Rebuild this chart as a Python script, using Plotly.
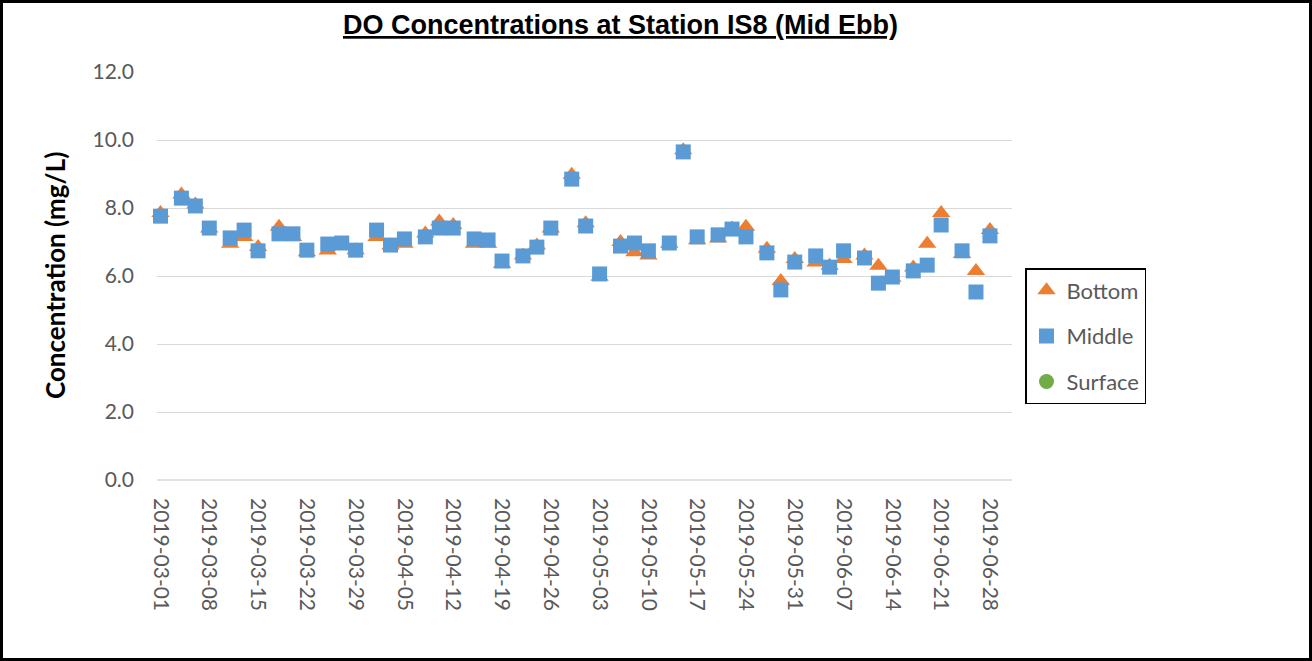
import plotly.graph_objects as go

dates = [
    "2019-03-01", "2019-03-04", "2019-03-06", "2019-03-08", "2019-03-11", "2019-03-13",
    "2019-03-15", "2019-03-18", "2019-03-20", "2019-03-22", "2019-03-25", "2019-03-27",
    "2019-03-29", "2019-04-01", "2019-04-03", "2019-04-05", "2019-04-08", "2019-04-10",
    "2019-04-12", "2019-04-15", "2019-04-17", "2019-04-19", "2019-04-22", "2019-04-24",
    "2019-04-26", "2019-04-29", "2019-05-01", "2019-05-03", "2019-05-06", "2019-05-08",
    "2019-05-10", "2019-05-13", "2019-05-15", "2019-05-17", "2019-05-20", "2019-05-22",
    "2019-05-24", "2019-05-27", "2019-05-29", "2019-05-31", "2019-06-03", "2019-06-05",
    "2019-06-07", "2019-06-10", "2019-06-12", "2019-06-14", "2019-06-17", "2019-06-19",
    "2019-06-21", "2019-06-24", "2019-06-26", "2019-06-28",
]

bottom = [
    7.85, 8.40, 8.10, 7.40, 6.95, 7.15, 6.85, 7.45, 7.15, 6.70, 6.75, 6.95,
    6.76, 7.15, 6.90, 6.95, 7.25, 7.60, 7.50, 6.95, 6.95, 6.35, 6.60, 6.90,
    7.40, 8.98, 7.55, 5.98, 7.00, 6.70, 6.60, 6.95, 9.70, 7.05, 7.10, 7.40,
    7.45, 6.80, 5.85, 6.50, 6.40, 6.30, 6.50, 6.60, 6.30, 5.95, 6.25, 6.95,
    7.85, 6.65, 6.15, 7.35,
]

middle = [
    7.76, 8.29, 8.06, 7.41, 7.12, 7.35, 6.74, 7.24, 7.24, 6.76, 6.94, 6.97,
    6.76, 7.35, 6.91, 7.09, 7.15, 7.41, 7.41, 7.09, 7.06, 6.44, 6.59, 6.85,
    7.41, 8.85, 7.47, 6.06, 6.88, 6.97, 6.74, 6.97, 9.65, 7.15, 7.21, 7.38,
    7.15, 6.68, 5.59, 6.41, 6.59, 6.26, 6.74, 6.53, 5.79, 5.97, 6.15, 6.32,
    7.50, 6.74, 5.53, 7.18,
]

# Surface series has no values shown in the chart
surface = [None]
surface_dates = [None]

y_ticks = [0, 2, 4, 6, 8, 10, 12]
title_text = "DO Concentrations at Station IS8 (Mid Ebb)"
y_title = "Concentration (mg/L)"

W, H = 1312, 661
L, R, T, B = 157, 1012, 72, 480

fig = go.Figure()
fig.add_trace(go.Scatter(
    x=dates, y=bottom, mode="markers", name="Bottom", legendgroup="b",
    marker=dict(symbol="triangle-up", size=16, color="#ED7D31"),
    cliponaxis=False,
))
fig.add_trace(go.Scatter(
    x=dates, y=middle, mode="markers", name="Middle", legendgroup="m",
    marker=dict(symbol="square", size=15, color="#5B9BD5"),
    cliponaxis=False,
))
fig.add_trace(go.Scatter(
    x=surface_dates, y=surface, mode="markers", name="Surface", legendgroup="s",
    marker=dict(symbol="circle", size=15, color="#70AD47"),
    showlegend=True,
))

def px(xp):
    return (xp - L) / (R - L)

def py(yp):
    return (B - yp) / (B - T)

fig.update_layout(
    width=W, height=H,
    margin=dict(l=L, r=W - R, t=T, b=H - B, pad=0),
    paper_bgcolor="white", plot_bgcolor="white",
    font=dict(family="Lato", size=21, color="#595959"),
    showlegend=True,
    legend=dict(
        x=px(1025), y=py(268), xanchor="left", yanchor="top",
        bordercolor="black", borderwidth=1.5, bgcolor="white",
        font=dict(family="Lato", size=22, color="#595959"),
        tracegroupgap=14, traceorder="grouped",
        itemwidth=30,
    ),
    xaxis=dict(
        type="date",
        range=["2019-02-28 12:00", "2019-07-01 04:00"],
        tick0="2019-03-01", dtick=7 * 24 * 3600 * 1000,
        tickformat="%Y-%m-%d", tickangle=90,
        showgrid=False, zeroline=False, showline=False,
        ticks="", ticklen=0,
        tickfont=dict(family="Lato", size=21, color="#595959"),
        ticklabelstandoff=17,
    ),
    yaxis=dict(
        range=[0, 12], tickvals=y_ticks,
        ticktext=[f"{v:.1f}" for v in y_ticks],
        showgrid=True, gridcolor="#D9D9D9", gridwidth=1.3,
        zeroline=False, showline=False, ticks="",
        tickfont=dict(family="Lato", size=21, color="#595959"),
        ticklabelstandoff=22,
    ),
    annotations=[
        dict(
            text=f"<b><u>{title_text}</u></b>", xref="paper", yref="paper",
            x=px(620), y=py(25), xanchor="center", yanchor="middle",
            showarrow=False,
            font=dict(family="Liberation Sans", size=27, color="black"),
        ),
        dict(
            text=f"<b>{y_title}</b>", xref="paper", yref="paper",
            x=px(55), y=py(276), xanchor="center", yanchor="middle",
            textangle=-90, showarrow=False,
            font=dict(family="Lato", size=26, color="black"),
        ),
    ],
    shapes=[
        dict(type="rect", xref="paper", yref="paper",
             x0=px(1.5), x1=px(W - 1.5), y0=py(1.5), y1=py(H - 1.5),
             line=dict(color="black", width=3), layer="above"),
        dict(type="line", xref="paper", yref="paper",
             x0=0, x1=1, y0=0, y1=0,
             line=dict(color="#D9D9D9", width=1.3), layer="below"),
    ],
)

fig.write_html("out.html", config={"displayModeBar": False},
               post_script="document.body.style.margin='0';")
